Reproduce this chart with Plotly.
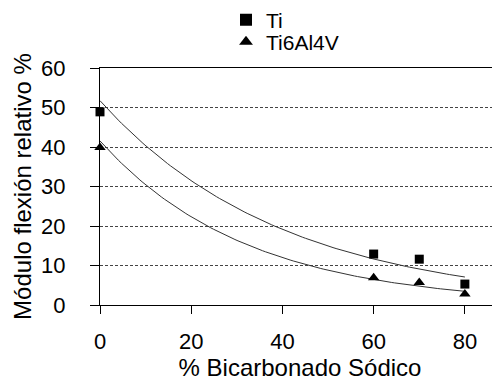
import numpy as np
import plotly.graph_objects as go

# Data
x_vals = [0, 60, 70, 80]
ti_vals = [48.9, 12.9, 11.6, 5.3]
ti64_vals = [39.9, 6.9, 5.7, 2.8]
series_names = ["Ti", "Ti6Al4V"]
x_ticks = [0, 20, 40, 60, 80]
y_ticks = [0, 10, 20, 30, 40, 50, 60]


def exp_trend(x, y):
    # Excel-style exponential trendline: least squares on ln(y)
    b, a = np.polyfit(np.array(x, float), np.log(np.array(y, float)), 1)
    xs = np.linspace(min(x), max(x), 120)
    return xs, np.exp(a) * np.exp(b * xs)


FONT = "Liberation Sans, Arial, sans-serif"
# page body has an 8px margin, so the figure is offset by 8px
W, H = 492, 374
L, T, B = 92, 60, 77
plot_h = H - T - B

fig = go.Figure()

for yv in (ti_vals, ti64_vals):
    xs, ys = exp_trend(x_vals, yv)
    fig.add_trace(go.Scatter(x=xs, y=ys, mode="lines", showlegend=False,
                             line=dict(color="#333333", width=1), hoverinfo="skip"))

fig.add_trace(go.Scatter(x=x_vals, y=ti_vals, mode="markers", name=series_names[0],
                         marker=dict(symbol="square", size=9, color="black"),
                         cliponaxis=False, legend="legend"))
fig.add_trace(go.Scatter(x=x_vals, y=ti64_vals, mode="markers", name=series_names[1],
                         marker=dict(symbol="triangle-up", size=10, color="black"),
                         cliponaxis=False, legend="legend2"))

leg_common = dict(xanchor="left", yanchor="middle", bgcolor="rgba(0,0,0,0)",
                  font=dict(size=21), itemsizing="constant", borderwidth=0)

fig.update_layout(
    width=W, height=H,
    margin=dict(l=L, r=0, t=T, b=B, autoexpand=False),
    paper_bgcolor="white", plot_bgcolor="white",
    font=dict(family=FONT, color="black", size=22),
    legend=dict(x=(246 - 20 - 100) / 400, y=(H - B - (20 - 8)) / plot_h, **leg_common),
    legend2=dict(x=(246 - 20 - 100) / 400, y=(H - B - (42 - 8)) / plot_h, **leg_common),
    xaxis=dict(range=[0, 87.7], tickvals=x_ticks, ticks="outside", ticklen=8,
               tickcolor="black", showline=True, linecolor="black", linewidth=1,
               mirror=True, showgrid=False, zeroline=False, automargin=False,
               ticklabelstandoff=9,
               title=dict(text="% Bicarbonado Sódico", font=dict(size=24), standoff=0)),
    yaxis=dict(range=[0, 60], tickvals=y_ticks, ticks="outside", ticklen=9,
               tickcolor="black", showline=True, linecolor="black", linewidth=1,
               showgrid=True, gridcolor="#444444", griddash="3px,2px", gridwidth=1,
               zeroline=False, automargin=False, ticklabelstandoff=20,
               title=dict(text="Módulo flexión relativo %", font=dict(size=24), standoff=2)),
)

fig.write_html("out.html")
